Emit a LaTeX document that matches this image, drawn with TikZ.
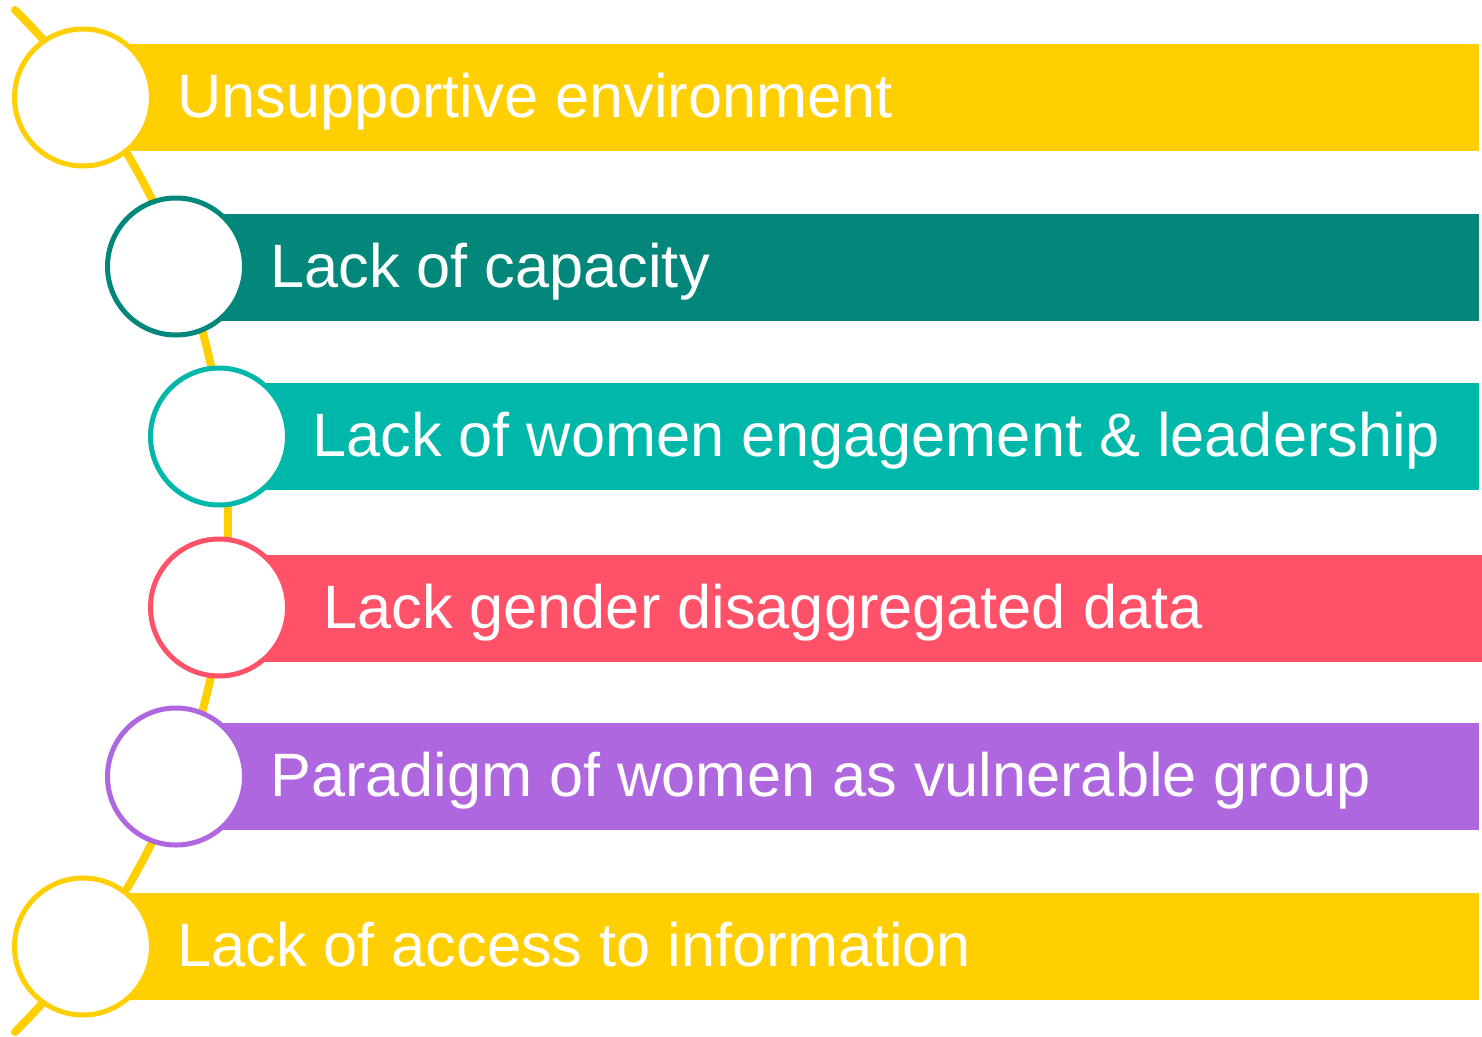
\documentclass[tikz,border=0pt]{standalone}
\usepackage{fontspec}
\setmainfont{Liberation Sans}
\definecolor{cyel}{HTML}{FFCF01}
\definecolor{cdteal}{HTML}{02877A}
\definecolor{cteal}{HTML}{00B8A9}
\definecolor{cred}{HTML}{FF5168}
\definecolor{cpur}{HTML}{AE67DE}
\begin{document}
\begin{tikzpicture}[x=1pt,y=-1pt,
  bar/.style={rectangle, inner sep=0pt, outer sep=0pt, minimum height=107pt, anchor=west},
  ring/.style={circle, draw=#1, fill=white, line width=5pt, minimum size=137pt, inner sep=0pt},
  lbl/.style={text=white, anchor=base west, inner sep=0pt, font=\fontsize{61.3}{70}\selectfont},
  spine/.style={draw=cyel, line width=8pt, line cap=round}]
\useasboundingbox (0,0) rectangle (1482,1036);
% spine arc
\coordinate (top) at (15,10);
\coordinate (bot) at (15,1030);
\draw[spine] (top) arc[start angle=-45.25, end angle=45.25, radius=719.5];
% bars
\node[bar, fill=cyel,   minimum width=1395pt] (b1) at (84,97.5) {};
\node[bar, fill=cdteal, minimum width=1302pt] (b2) at (177,267.5) {};
\node[bar, fill=cteal,  minimum width=1259pt] (b3) at (220,436.5) {};
\node[bar, fill=cred,   minimum width=1262pt] (b4) at (220,608.5) {};
\node[bar, fill=cpur,   minimum width=1302pt] (b5) at (177,776.5) {};
\node[bar, fill=cyel,   minimum width=1395pt] (b6) at (84,946.5) {};
% circles
\node[ring=cyel]   (c1) at (83,97.5) {};
\node[ring=cdteal] (c2) at (176,266.5) {};
\node[ring=cteal]  (c3) at (219,436.5) {};
\node[ring=cred]   (c4) at (219,607.5) {};
\node[ring=cpur]   (c5) at (176,776.5) {};
\node[ring=cyel]   (c6) at (83,946.5) {};
% labels
\node[lbl] (t1) at (177,117) {Unsupportive environment};
\node[lbl] (t2) at (270,287) {Lack of capacity};
\node[lbl] (t3) at (312,456) {Lack of women engagement \& leadership};
\node[lbl] (t4) at (323,628) {Lack gender disaggregated data};
\node[lbl] (t5) at (270,796) {Paradigm of women as vulnerable group};
\node[lbl] (t6) at (177,966) {Lack of access to information};
\end{tikzpicture}
\end{document}
